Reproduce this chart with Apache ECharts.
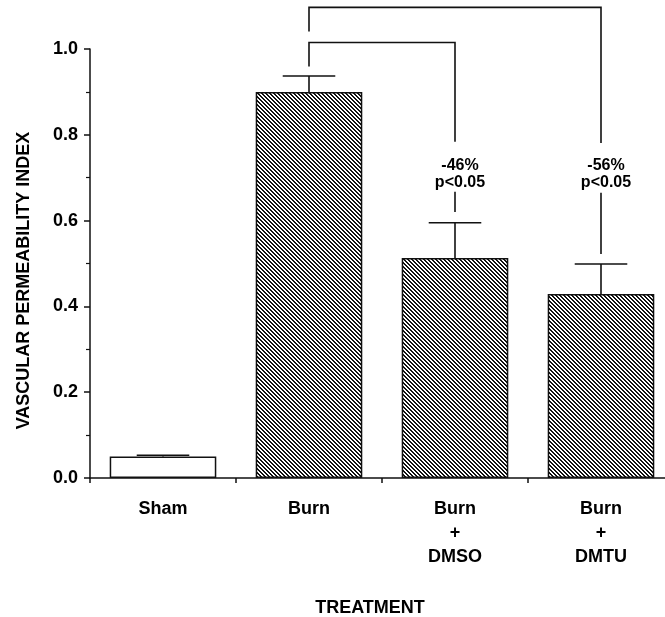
<!DOCTYPE html>
<html>
<head>
<meta charset="utf-8">
<script src="https://cdn.jsdelivr.net/npm/echarts@6/dist/echarts.min.js"></script>
<style>
  html, body { margin: 0; padding: 0; background: #fff; }
  #chart { width: 665px; height: 617px; }
</style>
</head>
<body>
<div id="chart"></div>
<script>
// data
const categories = ['Sham', 'Burn', 'Burn\n+\nDMSO', 'Burn\n+\nDMTU'];
const means = [0.05, 0.90, 0.513, 0.429];
const sems = [0.003, 0.037, 0.082, 0.07];
const hatched = [false, true, true, true];

// significance brackets (Burn vs treated groups)
const bracketFrom = [1, 1];
const bracketTo = [2, 3];
const bracketTop = [1.015, 1.097];
const leftLegEnd = [0.959, 1.041];
const rightLegEnd = [0.784, 0.781];
const lowerLegTop = [0.667, 0.665];
const lowerLegEnd = [0.620, 0.522];
const changeLabels = ['-46%', '-56%'];
const pLabels = ['p<0.05', 'p<0.05'];
const changeY = [0.728, 0.728];
const pY = [0.689, 0.689];

const FONT = '"Liberation Sans", Arial, Helvetica, sans-serif';
const INK = '#111';

// diagonal hatch pattern
function makeHatch() {
  const c = document.createElement('canvas');
  c.width = 4; c.height = 4;
  const ctx = c.getContext('2d');
  ctx.fillStyle = '#fff';
  ctx.fillRect(0, 0, 4, 4);
  ctx.fillStyle = '#111';
  for (let y = 0; y < 4; y++) {
    for (let x = 0; x < 4; x++) {
      if (((x - y) % 4 + 4) % 4 < 2) ctx.fillRect(x, y, 1, 1);
    }
  }
  return c;
}
const hatch = makeHatch();

const chart = echarts.init(document.getElementById('chart'), null, { renderer: 'canvas' });

const barData = means.map((v, i) => ({
  value: v,
  itemStyle: { color: hatched[i] ? { image: hatch, repeat: 'repeat' } : '#fff' }
}));

const errData = means.map((v, i) => [i, v, sems[i]]);
const bracketData = bracketFrom.map((f, i) => [f, bracketTop[i], bracketTo[i], leftLegEnd[i], rightLegEnd[i], lowerLegTop[i], lowerLegEnd[i], changeY[i], pY[i], i]);

const option = {
  animation: false,
  grid: { left: 90, right: -9, top: 49, bottom: 139, containLabel: false, outerBoundsMode: 'none' },
  xAxis: {
    type: 'category',
    data: categories,
    name: 'TREATMENT',
    nameLocation: 'middle',
    nameGap: 121,
    nameTextStyle: { fontFamily: FONT, fontWeight: 'bold', fontSize: 18, color: '#000', padding: [0, 24, 0, 0] },
    axisLine: { lineStyle: { color: INK, width: 1.5 } },
    axisTick: { show: true, length: 5, interval: 0, lineStyle: { color: INK, width: 1.5 } },
    axisLabel: { fontFamily: FONT, fontWeight: 'bold', fontSize: 18, color: '#000', margin: 19, lineHeight: 24, interval: 0 },
    splitLine: { show: false }
  },
  yAxis: {
    type: 'value',
    min: 0,
    max: 1,
    interval: 0.2,
    name: 'VASCULAR PERMEABILITY INDEX',
    nameLocation: 'middle',
    nameRotate: 90,
    nameGap: 57,
    nameTextStyle: { fontFamily: FONT, fontWeight: 'bold', fontSize: 18, color: '#000', padding: [0, 34, 0, 0] },
    axisLine: { show: true, lineStyle: { color: INK, width: 1.5 } },
    axisTick: { show: true, length: 6, lineStyle: { color: INK, width: 1.5 } },
    minorTick: { show: true, splitNumber: 2, length: 4, lineStyle: { color: INK, width: 1.2 } },
    axisLabel: { fontFamily: FONT, fontWeight: 'bold', fontSize: 18, color: '#000', margin: 12, formatter: v => v.toFixed(1) },
    splitLine: { show: false }
  },
  series: [
    {
      type: 'bar',
      data: barData,
      barWidth: '73%',
      itemStyle: { borderColor: INK, borderWidth: 1.5 },
      z: 2
    },
    {
      type: 'custom',
      data: errData,
      z: 3,
      renderItem: function (params, api) {
        const x = api.value(0), m = api.value(1), e = api.value(2);
        const base = api.coord([x, m]);
        const top = api.coord([x, m + e]);
        const half = api.size([1, 0])[0] * 0.18;
        const st = { stroke: INK, lineWidth: 1.6 };
        return {
          type: 'group',
          children: [
            { type: 'line', shape: { x1: base[0], y1: base[1], x2: top[0], y2: top[1] }, style: st },
            { type: 'line', shape: { x1: top[0] - half, y1: top[1], x2: top[0] + half, y2: top[1] }, style: st }
          ]
        };
      }
    },
    {
      type: 'custom',
      data: bracketData,
      z: 4,
      renderItem: function (params, api) {
        const from = api.value(0), topV = api.value(1), to = api.value(2);
        const a = api.coord([from, api.value(3)]);
        const b = api.coord([from, topV]);
        const c = api.coord([to, topV]);
        const d = api.coord([to, api.value(4)]);
        const l1 = api.coord([to, api.value(5)]);
        const l2 = api.coord([to, api.value(6)]);
        const t1 = api.coord([to, api.value(7)]);
        const t2 = api.coord([to, api.value(8)]);
        const k = api.value(9);
        const st = { stroke: INK, lineWidth: 1.6, fill: null };
        const txt = (s, p) => ({
          type: 'text',
          style: {
            text: s, x: p[0] + 5, y: p[1],
            textAlign: 'center', textVerticalAlign: 'middle',
            align: 'center', verticalAlign: 'middle',
            font: 'bold 16px ' + FONT, fill: '#000'
          }
        });
        return {
          type: 'group',
          children: [
            { type: 'polyline', shape: { points: [a, b, c, d] }, style: st },
            { type: 'line', shape: { x1: l1[0], y1: l1[1], x2: l2[0], y2: l2[1] }, style: st },
            txt(changeLabels[k], t1),
            txt(pLabels[k], t2)
          ]
        };
      }
    }
  ]
};

chart.setOption(option);
</script>
</body>
</html>
